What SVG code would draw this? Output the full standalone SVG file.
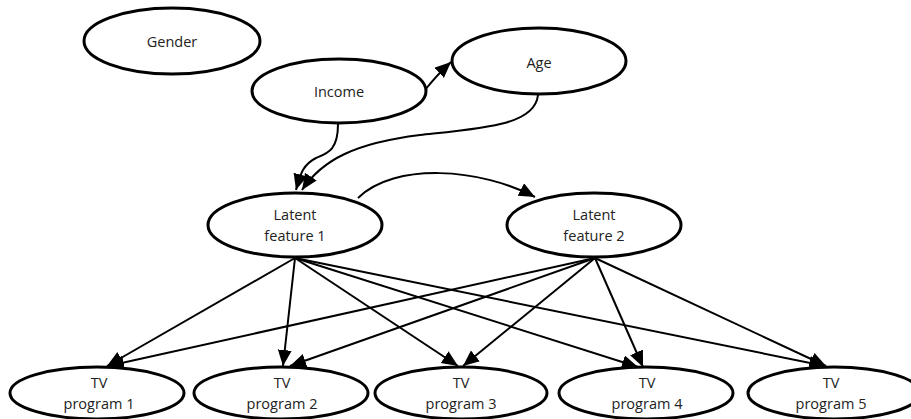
<svg xmlns="http://www.w3.org/2000/svg" width="911" height="419" viewBox="0 0 911 419">
<style>
.node ellipse{fill:#fff;stroke:#000;stroke-width:3}
.node text{font-family:"Open Sans","Liberation Sans",sans-serif;font-size:14.5px;fill:#222;text-anchor:middle}
#edges path{fill:none;stroke:#000;stroke-width:2;marker-end:url(#arr)}
</style>
<defs>
<marker id="arr" markerUnits="userSpaceOnUse" markerWidth="18" markerHeight="16" refX="16" refY="7" orient="auto">
<path d="M0,0 L16,7 L0,14 z" fill="#000"/>
</marker>
</defs>
<rect width="911" height="419" fill="#fff"/>
<g id="edges">
<path d="M425,90 C433,80 440,72 451,62"/>
<path d="M338,124 C338,150 328,153 316,158 C302,165 300,176 296,190"/>
<path d="M538,95 C535,125 485,128 420,135 C355,143 322,160 302,190"/>
<path d="M358,198 C395,162 480,168 535,197"/>
<path d="M295,258 L107,366"/>
<path d="M295,258 L283,366"/>
<path d="M295,258 L458,366"/>
<path d="M295,258 L638,367"/>
<path d="M295,258 L825,366"/>
<path d="M595,258 L108,366"/>
<path d="M595,258 L290,366"/>
<path d="M595,258 L463,366"/>
<path d="M595,258 L643,367"/>
<path d="M595,258 L826,366"/>
</g>
<g id="gender" class="node"><ellipse cx="172" cy="41" rx="88" ry="33"/><text x="172" y="47">Gender</text></g>
<g id="income" class="node"><ellipse cx="339" cy="91" rx="87" ry="32"/><text x="339" y="97">Income</text></g>
<g id="age" class="node"><ellipse cx="539" cy="61" rx="87" ry="33"/><text x="539" y="68">Age</text></g>
<g id="latent1" class="node"><ellipse cx="295" cy="225" rx="87" ry="32"/><text x="295" y="220">Latent</text><text x="295" y="241">feature 1</text></g>
<g id="latent2" class="node"><ellipse cx="594" cy="225" rx="87" ry="32"/><text x="594" y="220">Latent</text><text x="594" y="241">feature 2</text></g>
<g id="tv1" class="node"><ellipse cx="97" cy="393" rx="87" ry="26"/><text x="99" y="388">TV</text><text x="99" y="409">program 1</text></g>
<g id="tv2" class="node"><ellipse cx="281" cy="393" rx="87" ry="26"/><text x="282" y="388">TV</text><text x="282" y="409">program 2</text></g>
<g id="tv3" class="node"><ellipse cx="461" cy="393" rx="86" ry="26"/><text x="461" y="388">TV</text><text x="461" y="409">program 3</text></g>
<g id="tv4" class="node"><ellipse cx="646" cy="393" rx="87" ry="26"/><text x="647" y="388">TV</text><text x="647" y="409">program 4</text></g>
<g id="tv5" class="node"><ellipse cx="834" cy="393" rx="86" ry="26"/><text x="831" y="388">TV</text><text x="831" y="409">program 5</text></g>
</svg>
